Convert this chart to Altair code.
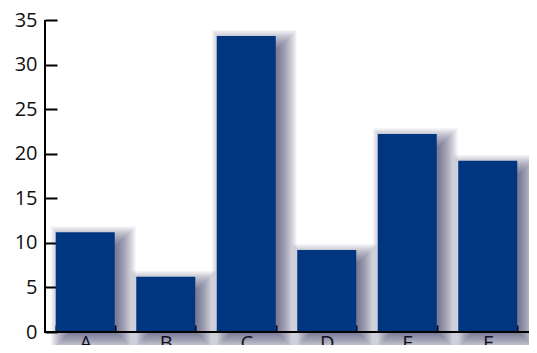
import altair as alt
import pandas as pd

categories = ["A", "B", "C", "D", "E", "F"]
values = [11.2, 6.2, 33.2, 9.2, 22.2, 19.2]
y_ticks = [0, 5, 10, 15, 20, 25, 30, 35]

df = pd.DataFrame({"cat": categories, "val": values})

W, H = 483, 312
BAR_W = 59
BAR_COLOR = "#00367f"
FONT = "Open Sans"

x_scale = alt.Scale(domain=categories, paddingInner=0.267, paddingOuter=0.1335)
y_scale = alt.Scale(domain=[0, 35], nice=False)

x_axis = alt.Axis(title=None, orient="bottom", offset=-7, tickSize=7, tickWidth=2,
                  tickColor="black", tickBand="extent", domain=False, grid=False,
                  labelAngle=0, labelFont=FONT, labelFontSize=20, labelColor="#111",
                  labelPadding=1)
y_axis = alt.Axis(title=None, orient="left", offset=-12, tickSize=12, tickWidth=2,
                  tickColor="black", domain=False, grid=False, values=y_ticks,
                  labelFont=FONT, labelFontSize=20, labelColor="#111", labelPadding=8)

X = alt.X("cat:N", scale=x_scale, axis=x_axis)
Y = alt.Y("val:Q", scale=y_scale, axis=y_axis)

base = alt.Chart(df)

layers = []
DX, DY = 8, 7
for k in range(-6, 14):
    layers.append(
        base.mark_bar(color="#202040", opacity=0.04, width=BAR_W + 2 * k,
                      xOffset=DX, yOffset=DY - k, y2Offset=DY + k)
        .encode(x=X, y=Y, y2=alt.datum(0))
    )

bars = base.mark_bar(color=BAR_COLOR).encode(x=X, y=Y)

one = pd.DataFrame({"a": [0]})
x_domain = alt.Chart(one).mark_rule(color="black", strokeWidth=2).encode(
    x=alt.value(-1), x2=alt.value(W + 1), y=alt.value(H)
)
y_domain = alt.Chart(one).mark_rule(color="black", strokeWidth=2).encode(
    x=alt.value(0), y=alt.value(0), y2=alt.value(H + 1)
)

chart = alt.layer(*layers, bars, x_domain, y_domain).properties(
    width=W, height=H,
    background="white",
    autosize=alt.AutoSizeParams(type="none"),
    padding={"left": 37, "top": 12, "right": 1, "bottom": 13},
).configure_view(stroke=None)

chart.save("out.html", embed_options={"renderer": "svg", "actions": False})
